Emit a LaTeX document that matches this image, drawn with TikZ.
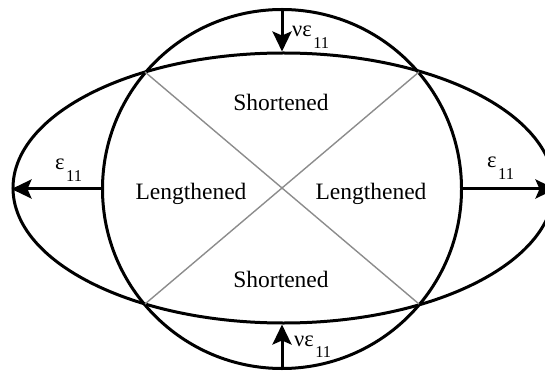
\documentclass[tikz,border=0pt]{standalone}
\usepackage{fontspec}
\setmainfont{Liberation Serif}
\usetikzlibrary{arrows.meta,shapes.geometric}
\tikzset{
  outline/.style={draw=black, line width=3pt, inner sep=0pt, fill=none},
  strain/.style={line width=3pt, -{Stealth[length=20pt,width=19pt,inset=4pt]}},
  diag/.style={draw=black!45, line width=1.4pt},
  region/.style={font=\fontsize{23.5}{27}\selectfont, anchor=base, inner sep=0pt},
  lbl/.style={font=\fontsize{22.5}{26}\selectfont, anchor=base west, inner sep=0pt},
}
\newcommand{\subone}[1]{\kern1.5pt\raisebox{-#1}{\fontsize{16.5}{18}\selectfont 11}}
\begin{document}
\begin{tikzpicture}[x=1pt,y=-1pt]
\useasboundingbox (0,0) rectangle (545,371);
% circle and ellipse
\node[outline, circle, minimum size=359pt] (c) at (282,189) {};
\node[outline, ellipse, minimum width=541pt, minimum height=270pt] (e) at (283.5,188) {};
% intersection corners
\coordinate (tl) at (145,72);
\coordinate (tr) at (419,72);
\coordinate (bl) at (145,304);
\coordinate (br) at (419,304);
\draw[diag] (tl) -- (br);
\draw[diag] (tr) -- (bl);
% arrows
\draw[strain] (c.north) -- (c.north |- e.north);
\draw[strain] (c.south) -- (c.south |- e.south);
\draw[strain] (c.west) -- (c.west -| e.west);
\draw[strain] (c.east) -- (c.east -| e.east);
% region labels
\node[region] (s1) at (281,111) {Shortened};
\node[region] (s2) at (281,287.5) {Shortened};
\node[region] (l1) at (191,200) {Lengthened};
\node[region] (l2) at (371,200) {Lengthened};
% strain labels
\node[lbl] (nt) at (292,37) {νε\subone{12pt}};
\node[lbl] (nb) at (294,346) {νε\subone{11pt}};
\node[lbl] (el) at (55,170) {ε\subone{12pt}};
\node[lbl] (er) at (487,168) {ε\subone{12pt}};
\end{tikzpicture}
\end{document}
